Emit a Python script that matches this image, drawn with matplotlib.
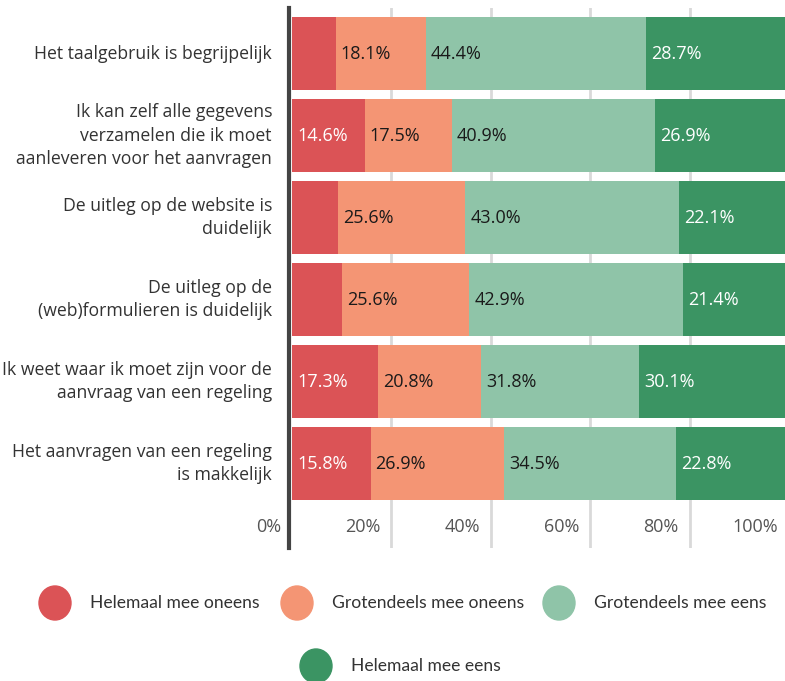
import matplotlib
matplotlib.use("Agg")
import matplotlib.pyplot as plt
import matplotlib.transforms as mtransforms
from matplotlib.patches import Ellipse

plt.rcParams['font.family'] = ['Open Sans', 'DejaVu Sans']

categories = [
    "Het taalgebruik is begrijpelijk",
    "Ik kan zelf alle gegevens\nverzamelen die ik moet\naanleveren voor het aanvragen",
    "De uitleg op de website is\nduidelijk",
    "De uitleg op de\n(web)formulieren is duidelijk",
    "Ik weet waar ik moet zijn voor de\naanvraag van een regeling",
    "Het aanvragen van een regeling\nis makkelijk",
]
series_names = ["Helemaal mee oneens", "Grotendeels mee oneens",
                "Grotendeels mee eens", "Helemaal mee eens"]
helemaal_oneens = [8.8, 14.6, 9.3, 10.1, 17.3, 15.8]
grotendeels_oneens = [18.1, 17.5, 25.6, 25.6, 20.8, 26.9]
grotendeels_eens = [44.4, 40.9, 43.0, 42.9, 31.8, 34.5]
helemaal_eens = [28.7, 26.9, 22.1, 21.4, 30.1, 22.8]
show_label = [
    [False, True, False, False, True, True],
    [True] * 6,
    [True] * 6,
    [True] * 6,
]
tick_values = [0, 20, 40, 60, 80, 100]
tick_labels = ["0%", "20%", "40%", "60%", "80%", "100%"]

colors = ["#DB5356", "#F49574", "#8FC4A8", "#3B9463"]
label_colors = ["white", "#1a1a1a", "#1a1a1a", "white"]

W, H = 785, 681
fig = plt.figure(figsize=(W / 100, H / 100), dpi=100)

# main axes, placed in pixel terms
ax = fig.add_axes([292 / W, 1 - 548 / H, 497 / W, 540 / H])
ax.set_xlim(0, 100)
ax.set_ylim(6.03, -0.555)

series = [helemaal_oneens, grotendeels_oneens, grotendeels_eens, helemaal_eens]
ypos = list(range(len(categories)))

for x in tick_values[1:-1]:
    ax.axvline(x, color="#d9d9d9", lw=2, zorder=0)

left = [0.0] * len(categories)
pad = mtransforms.ScaledTranslation(5 / 100, 0, fig.dpi_scale_trans)
for s, vals in enumerate(series):
    ax.barh(ypos, vals, left=left, height=0.89, color=colors[s], zorder=2)
    for i, v in enumerate(vals):
        if show_label[s][i]:
            ax.text(left[i], i, f"{v:.1f}%", ha="left", va="center",
                    fontsize=13, color=label_colors[s],
                    transform=ax.transData + pad, zorder=3)
    left = [l + v for l, v in zip(left, vals)]

# category labels
cat_off = mtransforms.ScaledTranslation(-20 / 100, 0, fig.dpi_scale_trans)
for i, c in enumerate(categories):
    ax.text(0, i, c, ha="right", va="center", multialignment="right",
            fontsize=12.7, color="#333333", linespacing=1.4,
            transform=ax.transData + cat_off)

# x tick labels, right-aligned left of the grid lines
tick_off = mtransforms.ScaledTranslation(-11 / 100, 0, fig.dpi_scale_trans)
for v, t in zip(tick_values, tick_labels):
    ax.text(v, 5.77, t, ha="right", va="center", fontsize=13,
            color="#555555", transform=ax.transData + tick_off, clip_on=False)

ax.set_xticks([])
ax.set_yticks([])
for sp in ["top", "right", "bottom"]:
    ax.spines[sp].set_visible(False)
ax.spines["left"].set_color("#444444")
ax.spines["left"].set_linewidth(3)
ax.spines["left"].set_position(("outward", 2))

# legend in pixel coordinates
lax = fig.add_axes([0, 0, 1, 1], zorder=-1)
lax.set_xlim(0, W)
lax.set_ylim(H, 0)
lax.axis("off")
legend_pos = [(55, 603), (297, 603), (559, 603), (316, 666)]
for (cx, cy), name, col in zip(legend_pos, series_names, colors):
    lax.add_patch(Ellipse((cx, cy), 32, 34, color=col))
    lax.text(cx + 35, cy, name, ha="left", va="center", fontsize=12.6,
             color="#333333", family=["Lato", "DejaVu Sans"])

fig.savefig("out.png", dpi=100)
